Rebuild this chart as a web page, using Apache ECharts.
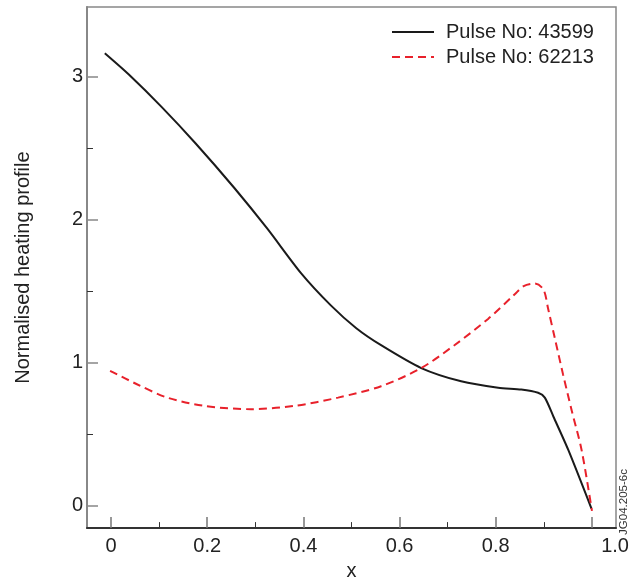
<!DOCTYPE html>
<html>
<head>
<meta charset="utf-8" />
<script src="https://cdn.jsdelivr.net/npm/echarts@6/dist/echarts.min.js"></script>
<style>
  html, body { margin: 0; padding: 0; background: #fff; }
  #main { width: 639px; height: 586px; }
</style>
</head>
<body>
<div id="main"></div>
<script type="text/javascript">
// Pulse No: 43599 (black, solid)
var x43599 = [-0.013, 0.037, 0.106, 0.176, 0.256, 0.325, 0.395, 0.457, 0.51, 0.5615, 0.645, 0.728, 0.805, 0.853, 0.888, 0.902, 0.92, 0.951, 0.999];
var y43599 = [3.166, 3.017, 2.787, 2.534, 2.224, 1.937, 1.626, 1.40, 1.24, 1.121, 0.961, 0.868, 0.823, 0.811, 0.788, 0.754, 0.62, 0.386, -0.023];
// Pulse No: 62213 (red, dashed)
var x62213 = [-0.002, 0.055, 0.117, 0.194, 0.291, 0.3815, 0.472, 0.5615, 0.645, 0.714, 0.784, 0.8395, 0.858, 0.881, 0.899, 0.909, 0.923, 0.94, 0.958, 0.9785, 1.0];
var y62213 = [0.942, 0.846, 0.754, 0.696, 0.673, 0.696, 0.754, 0.834, 0.961, 1.121, 1.305, 1.478, 1.535, 1.553, 1.512, 1.374, 1.167, 0.915, 0.662, 0.386, -0.04];

var xMajor = [0, 0.2, 0.4, 0.6, 0.8, 1.0];
var xMinor = [0.1, 0.3, 0.5, 0.7, 0.9];
var xLabels = [0, 0.2, 0.4, 0.6, 0.8, 1.048];  // the "1.0" label sits right of its tick in the original
var yMajor = [0, 1, 2, 3];
var yMinor = [0.5, 1.5, 2.5];

function pairs(xs, ys) {
    return xs.map(function (v, i) { return [v, ys[i]]; });
}

var font = 'Liberation Sans, Arial, sans-serif';
var myChart = echarts.init(document.getElementById('main'));

option = {
    animation: false,
    backgroundColor: '#fff',
    grid: {
        left: 87, top: 7, right: 23, bottom: 50,
        show: true, borderColor: '#888', borderWidth: 1.5
    },
    legend: {
        orient: 'vertical',
        left: 386, top: 17,
        itemWidth: 42, itemHeight: 14, itemGap: 5,
        itemStyle: { opacity: 0 },
        textStyle: { fontSize: 20, color: '#222', fontFamily: font, padding: [0, 0, 0, 7] },
        data: ['Pulse No: 43599', 'Pulse No: 62213']
    },
    xAxis: [{
        type: 'value', min: -0.05, max: 1.05, position: 'bottom',
        name: 'x', nameLocation: 'middle', nameGap: 31,
        nameTextStyle: { fontSize: 20, color: '#222', fontFamily: font },
        axisLine: { show: true, onZero: false, lineStyle: { color: '#333', width: 2 } },
        axisTick: { show: true, inside: true, length: 11, customValues: xMajor, lineStyle: { color: '#777', width: 1.5 } },
        axisLabel: {
            customValues: xLabels, margin: 8,
            fontSize: 20, color: '#222', fontFamily: font,
            formatter: function (v) { return v === 0 ? '0' : (v > 0.99 ? '1.0' : v.toFixed(1)); }
        },
        splitLine: { show: false }
    }, {
        type: 'value', min: -0.05, max: 1.05, position: 'bottom',
        axisLine: { show: false, onZero: false },
        axisTick: { show: true, inside: true, length: 6, customValues: xMinor, lineStyle: { color: '#333', width: 1 } },
        axisLabel: { show: false },
        splitLine: { show: false }
    }],
    yAxis: [{
        type: 'value', min: -0.16, max: 3.49, position: 'left',
        name: 'Normalised heating profile', nameLocation: 'middle', nameGap: 54,
        nameTextStyle: { fontSize: 20, color: '#222', fontFamily: font },
        axisLine: { show: true, onZero: false, lineStyle: { color: '#888', width: 2 } },
        axisTick: { show: true, inside: true, length: 11, customValues: yMajor, lineStyle: { color: '#888', width: 1.5 } },
        axisLabel: { customValues: yMajor, margin: 4, fontSize: 20, color: '#222', fontFamily: font },
        splitLine: { show: false }
    }, {
        type: 'value', min: -0.16, max: 3.49, position: 'left',
        axisLine: { show: false, onZero: false },
        axisTick: { show: true, inside: true, length: 6, customValues: yMinor, lineStyle: { color: '#333', width: 1 } },
        axisLabel: { show: false },
        splitLine: { show: false }
    }],
    graphic: [{
        type: 'text', x: 624, y: 502, rotation: Math.PI / 2,
        style: { text: 'JG04.205-6c', fontSize: 11.5, fill: '#333', fontFamily: font, align: 'center', verticalAlign: 'middle' }
    }],
    series: [{
        name: 'Pulse No: 43599', type: 'line', showSymbol: false, symbol: 'none',
        smooth: 0.25, data: pairs(x43599, y43599),
        lineStyle: { color: '#1a1a1a', width: 2 }, itemStyle: { color: '#1a1a1a' }
    }, {
        name: 'Pulse No: 62213', type: 'line', showSymbol: false, symbol: 'none',
        smooth: 0.3, data: pairs(x62213, y62213),
        lineStyle: { color: '#e8212b', width: 2, type: [8, 5] }, itemStyle: { color: '#e8212b' }
    }]
};
myChart.setOption(option);
</script>
</body>
</html>
